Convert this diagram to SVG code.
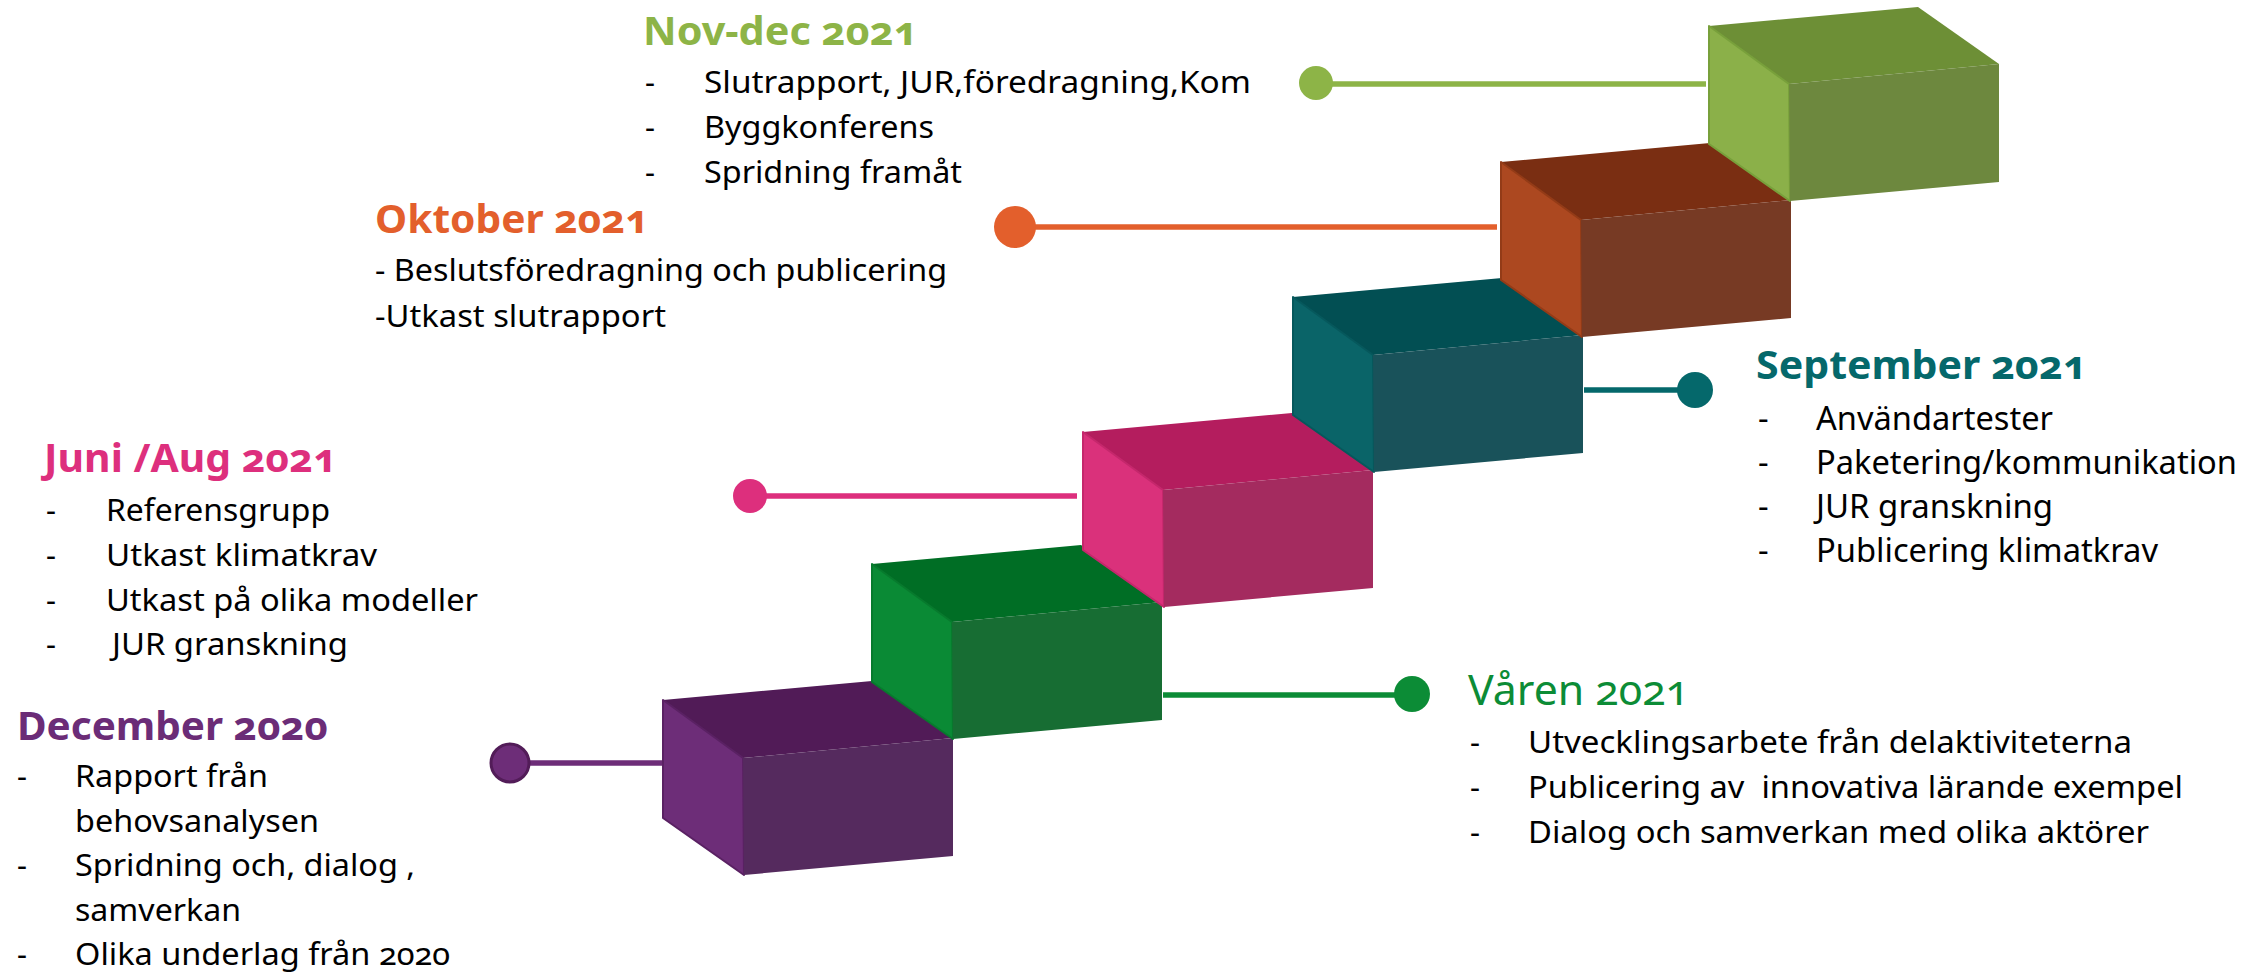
<svg xmlns="http://www.w3.org/2000/svg" width="2267" height="973" viewBox="0 0 2267 973">
<style>
text{font-family:"Noto Sans","Open Sans","Liberation Sans",sans-serif;font-variant-numeric:oldstyle-nums;}
.h{font-size:40px;font-weight:bold;}
.hr{font-size:41px;font-weight:normal;}
.b{font-size:31px;fill:#000;}
.bs{font-size:33px;fill:#000;}
.cn{stroke-width:5.5;fill:none;}
.lf{stroke-width:2;stroke-linejoin:round;}
</style>
<defs>
<polygon id="top" points="0,0 209,-19 290,38 80,58"/>
<polygon id="left" points="0,0 80,58 81,175 0,118"/>
<polygon id="front" points="80,58 290,38 290,156 81,175"/>
</defs>
<rect width="2267" height="973" fill="#fff"/>

<g id="connectors">
<line class="cn" x1="510" y1="763" x2="662" y2="763" stroke="#6D2D78"/>
<circle cx="510" cy="763" r="19" fill="#6D2D78" stroke="#521C58" stroke-width="3"/>
<line class="cn" x1="1163" y1="695" x2="1412" y2="695" stroke="#0C8C36"/>
<circle cx="1412" cy="694" r="18" fill="#0C8C36"/>
<line class="cn" x1="750" y1="496" x2="1077" y2="496" stroke="#DD2F7D"/>
<circle cx="750" cy="496" r="17" fill="#DD2F7D"/>
<line class="cn" x1="1584" y1="390" x2="1695" y2="390" stroke="#05686B"/>
<circle cx="1695" cy="390" r="18" fill="#05686B"/>
<line class="cn" x1="1015" y1="227" x2="1497" y2="227" stroke="#E35F2C"/>
<circle cx="1015" cy="227" r="21" fill="#E35F2C"/>
<line class="cn" x1="1316" y1="84" x2="1706" y2="84" stroke="#8DB447" stroke-width="6"/>
<circle cx="1316" cy="83" r="17" fill="#8DB447"/>
</g>

<g id="step-dec2020">
<g transform="translate(663,700)">
<use href="#top" fill="#511B57"/>
<use href="#left" class="lf" fill="#6D2D78" stroke="#5A2163"/>
<use href="#front" fill="#552A5E"/>
</g>
<text class="h" x="17" y="740" fill="#6B2C77" textLength="311" lengthAdjust="spacingAndGlyphs">December 2020</text>
<text class="b" x="17" y="787">-</text>
<text class="b" x="75" y="787" textLength="193" lengthAdjust="spacingAndGlyphs">Rapport från</text>
<text class="b" x="75" y="832" textLength="244" lengthAdjust="spacingAndGlyphs">behovsanalysen</text>
<text class="b" x="17" y="876">-</text>
<text class="b" x="75" y="876" textLength="340" lengthAdjust="spacingAndGlyphs">Spridning och, dialog ,</text>
<text class="b" x="75" y="921" textLength="166" lengthAdjust="spacingAndGlyphs">samverkan</text>
<text class="b" x="17" y="965">-</text>
<text class="b" x="75" y="965" textLength="375" lengthAdjust="spacingAndGlyphs">Olika underlag från 2020</text>
</g>

<g id="step-varen2021">
<g transform="translate(872,564)">
<use href="#top" fill="#006E25"/>
<use href="#left" class="lf" fill="#0A8A35" stroke="#077A2D"/>
<use href="#front" fill="#176D33"/>
</g>
<text class="hr" x="1468" y="705" fill="#0C8C36" textLength="221" lengthAdjust="spacingAndGlyphs">Våren 2021</text>
<text class="b" x="1470" y="753">-</text>
<text class="b" x="1528" y="753" textLength="604" lengthAdjust="spacingAndGlyphs">Utvecklingsarbete från delaktiviteterna</text>
<text class="b" x="1470" y="798">-</text>
<text class="b" x="1528" y="798" textLength="655" lengthAdjust="spacingAndGlyphs" xml:space="preserve">Publicering av  innovativa lärande exempel</text>
<text class="b" x="1470" y="843">-</text>
<text class="b" x="1528" y="843" textLength="621" lengthAdjust="spacingAndGlyphs">Dialog och samverkan med olika aktörer</text>
</g>

<g id="step-juniaug2021">
<g transform="translate(1083,432)">
<use href="#top" fill="#B41D5E"/>
<use href="#left" class="lf" fill="#DA317B" stroke="#C5276C"/>
<use href="#front" fill="#A42B5F"/>
</g>
<text class="h" x="44" y="472" fill="#DD2F7D" textLength="293" lengthAdjust="spacingAndGlyphs">Juni /Aug 2021</text>
<text class="b" x="46" y="521">-</text>
<text class="b" x="106" y="521" textLength="224" lengthAdjust="spacingAndGlyphs">Referensgrupp</text>
<text class="b" x="46" y="566">-</text>
<text class="b" x="106" y="566" textLength="271" lengthAdjust="spacingAndGlyphs">Utkast klimatkrav</text>
<text class="b" x="46" y="611">-</text>
<text class="b" x="106" y="611" textLength="372" lengthAdjust="spacingAndGlyphs">Utkast på olika modeller</text>
<text class="b" x="46" y="655">-</text>
<text class="b" x="112" y="655" textLength="236" lengthAdjust="spacingAndGlyphs">JUR granskning</text>
</g>

<g id="step-sep2021">
<g transform="translate(1293,297)">
<use href="#top" fill="#024F53"/>
<use href="#left" class="lf" fill="#0A6468" stroke="#06585C"/>
<use href="#front" fill="#19525A"/>
</g>
<text class="h" x="1756" y="379" fill="#05686B" textLength="331" lengthAdjust="spacingAndGlyphs">September 2021</text>
<text class="bs" x="1758" y="430">-</text>
<text class="bs" x="1816" y="430" textLength="237" lengthAdjust="spacingAndGlyphs">Användartester</text>
<text class="bs" x="1758" y="474">-</text>
<text class="bs" x="1816" y="474" textLength="421" lengthAdjust="spacingAndGlyphs">Paketering/kommunikation</text>
<text class="bs" x="1758" y="518">-</text>
<text class="bs" x="1816" y="518" textLength="237" lengthAdjust="spacingAndGlyphs">JUR granskning</text>
<text class="bs" x="1758" y="562">-</text>
<text class="bs" x="1816" y="562" textLength="342" lengthAdjust="spacingAndGlyphs">Publicering klimatkrav</text>
</g>

<g id="step-okt2021">
<g transform="translate(1501,162)">
<use href="#top" fill="#7A2E12"/>
<use href="#left" class="lf" fill="#AC4820" stroke="#933B17"/>
<use href="#front" fill="#773A24"/>
</g>
<text class="h" x="375" y="233" fill="#E35F2C" textLength="274" lengthAdjust="spacingAndGlyphs">Oktober 2021</text>
<text class="b" x="375" y="281" textLength="572" lengthAdjust="spacingAndGlyphs">- Beslutsföredragning och publicering</text>
<text class="b" x="375" y="327" textLength="291" lengthAdjust="spacingAndGlyphs">-Utkast slutrapport</text>
</g>

<g id="step-novdec2021">
<g transform="translate(1709,26)">
<use href="#top" fill="#6D8F36"/>
<use href="#left" class="lf" fill="#8BB049" stroke="#78A03B"/>
<use href="#front" fill="#6D883E"/>
</g>
<text class="h" x="643" y="45" fill="#8DB447" textLength="275" lengthAdjust="spacingAndGlyphs">Nov-dec 2021</text>
<text class="b" x="645" y="93">-</text>
<text class="b" x="704" y="93" textLength="547" lengthAdjust="spacingAndGlyphs">Slutrapport, JUR,föredragning,Kom</text>
<text class="b" x="645" y="138">-</text>
<text class="b" x="704" y="138" textLength="230" lengthAdjust="spacingAndGlyphs">Byggkonferens</text>
<text class="b" x="645" y="183">-</text>
<text class="b" x="704" y="183" textLength="258" lengthAdjust="spacingAndGlyphs">Spridning framåt</text>
</g>
</svg>
